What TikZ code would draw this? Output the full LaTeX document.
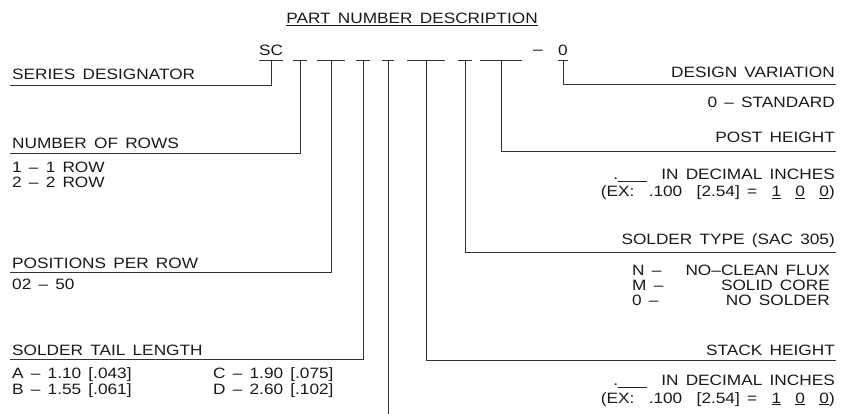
\documentclass[tikz,border=0pt]{standalone}
\usepackage{fontspec}
\setmainfont{Liberation Sans}[FakeStretch=1.15, WordSpace=1.5]
\usepackage{tikz}
\usetikzlibrary{positioning}
\tikzset{node distance=15pt, auto}
\newcommand{\DecIn}{.\_\_\_\ \ IN DECIMAL INCHES}
\newcommand{\ExIn}{(EX:\ \ .100\ \ [2.54]\ = \ \underline{1}\ \ \underline{0}\ \ \underline{0})}

\begin{document}
\begin{tikzpicture}[x=1pt, y=-1pt, node distance=15pt, auto,
		every node/.style={inner sep=0pt, font=\fontsize{15}{18}\selectfont, text=black!90},
		code/.style={anchor=south, inner ysep=4pt},
		blank/.style={anchor=south, minimum width=#1},
		wire/.style={draw=black!80, line width=0.9pt}]
		\useasboundingbox (0,0) rectangle (846,414);
			\node (T) at (412,24) [anchor=base] {\underline{PART NUMBER DESCRIPTION}};
			% part number
			\node[code] (SC) at (271,60) {SC};
			\node[blank=14pt] (R) at (300,60) {};
			\node[blank=27pt] (P) at (331,60) {};
			\node[blank=13pt] (L) at (363,60) {};
			\node[blank=12pt] (U) at (388,60) {};
			\node[blank=37pt] (K) at (426,60) {};
			\node[blank=14pt] (S) at (465,60) {};
			\node[blank=42pt] (H) at (501,60) {};
			\node (DS) at (538,55) [anchor=base] {--};
			\node[code] (V) at (563,60) {0};
			\foreach \n in {SC,R,P,L,U,K,S,H,V}
				\draw[wire] (\n.south west) -- (\n.south east);
			% left side
			\node (SD) at (12,80) [anchor=base west] {SERIES DESIGNATOR};
			\coordinate (SD') at (10,85);
			\draw[wire] (SC.south) |- (SD');
			\node (NR) at (12,149) [anchor=base west] {NUMBER OF ROWS};
			\node (NR1) [below=24pt of NR.base west, anchor=base west] {1 -- 1 ROW};
			\node (NR2) [below=15pt of NR1.base west, anchor=base west] {2 -- 2 ROW};
			\coordinate (NR') at (10,153);
			\draw[wire] (R.south) |- (NR');
			\node (PR) at (12,268) [anchor=base west] {POSITIONS PER ROW};
			\node (PR1) [below=21pt of PR.base west, anchor=base west] {02 -- 50};
			\coordinate (PR') at (10,272);
			\draw[wire] (P.south) |- (PR');
			\node (TL) at (12,355) [anchor=base west] {SOLDER TAIL LENGTH};
			\node (TL1) [below=23pt of TL.base west, anchor=base west] {A -- 1.10\ [.043]};
			\node (TL2) [below=16pt of TL1.base west, anchor=base west] {B -- 1.55\ [.061]};
			\node (TL3) at (213,378) [anchor=base west] {C -- 1.90\ [.075]};
			\node (TL4) [below=16pt of TL3.base west, anchor=base west] {D -- 2.60\ [.102]};
			\coordinate (TL') at (10,359);
			\draw[wire] (L.south) |- (TL');
			\coordinate (U') at (388,414);
			\draw[wire] (U.south) -- (U');
			% right side
			\node (DV) at (835,78) [anchor=base east] {DESIGN VARIATION};
			\node (DV1) [below=30pt of DV.base east, anchor=base east] {0 -- STANDARD};
			\coordinate (DV') at (836,84);
			\draw[wire] (V.south) |- (DV');
			\node (PH) at (835,143) [anchor=base east] {POST HEIGHT};
			\node (PH1) [below=37pt of PH.base east, anchor=base east] {\DecIn};
			\node (PH2) [below=17pt of PH1.base east, anchor=base east] {\ExIn};
			\coordinate (PH') at (836,151);
			\draw[wire] (H.south) |- (PH');
			\node (ST) at (835,244) [anchor=base east] {SOLDER TYPE (SAC 305)};
			\node (ST1) at (632,275) [anchor=base west] {N --};
			\node (ST2) [below=15pt of ST1.base west, anchor=base west] {M --};
			\node (ST3) [below=15pt of ST2.base west, anchor=base west] {0 --};
			\node (ST1') at (830,275) [anchor=base east] {NO--CLEAN FLUX};
			\node (ST2') [below=15pt of ST1'.base east, anchor=base east] {SOLID CORE};
			\node (ST3') [below=15pt of ST2'.base east, anchor=base east] {NO SOLDER};
			\coordinate (ST') at (836,252);
			\draw[wire] (S.south) |- (ST');
			\node (SH) at (835,355) [anchor=base east] {STACK HEIGHT};
			\node (SH1) [below=30pt of SH.base east, anchor=base east] {\DecIn};
			\node (SH2) [below=18pt of SH1.base east, anchor=base east] {\ExIn};
			\coordinate (SH') at (836,360);
			\draw[wire] (K.south) |- (SH');
		\end{tikzpicture}
\end{document}
